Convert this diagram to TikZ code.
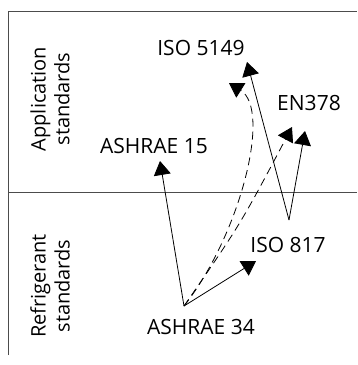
\documentclass[tikz,border=0pt]{standalone}
\usepackage{fontspec}
\setmainfont{Open Sans}
\usetikzlibrary{arrows.meta}
\tikzset{
  lbl/.style={font=\fontsize{21}{23}\selectfont, inner sep=0pt},
  side/.style={font=\fontsize{20}{24}\selectfont, rotate=90, align=center, inner sep=0pt},
  frame/.style={draw=black!70, line width=0.9pt},
  link/.style={line width=0.8pt, -{Triangle[length=14pt,width=17pt]}},
  dlink/.style={link, dash pattern=on 8pt off 5pt},
}
\begin{document}
\begin{tikzpicture}[x=1pt,y=-1pt]
\useasboundingbox (0,0) rectangle (357,365);
% frame
\draw[frame] (8,355) -- (8,11) -- (357,11);
\draw[frame] (8,192) -- (357,192);
% side labels
\node[side] (app) at (50,99) {Application\\standards};
\node[side] (ref) at (50,286) {Refrigerant\\standards};
% standards
\node[lbl] (iso5149) at (201,48) {ISO 5149};
\node[lbl] (en378) at (309,103) {EN378};
\node[lbl] (ashrae15) at (154,146) {ASHRAE 15};
\node[lbl] (iso817) at (288,245) {ISO 817};
\node[lbl] (ashrae34) at (201,327) {ASHRAE 34};
% connector ends
\coordinate (a34) at (184,306);
\coordinate (i817) at (289,220);
\coordinate (t15) at (160,161);
\coordinate (t817) at (256,261);
\coordinate (t5149a) at (229,83);
\coordinate (t5149b) at (247,62);
\coordinate (t378a) at (292,127);
\coordinate (t378b) at (305,131);
% arrows
\draw[link] (a34) -- (t15);
\draw[link] (a34) -- (t817);
\draw[dlink] (a34) .. controls (240,235) and (272,110) .. (t5149a);
\draw[dlink] (a34) .. controls (240,225) .. (t378a);
\draw[link] (i817) -- (t5149b);
\draw[link] (i817) -- (t378b);
\end{tikzpicture}
\end{document}
